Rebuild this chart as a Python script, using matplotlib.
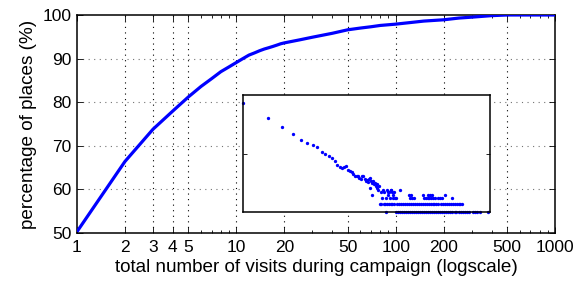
import matplotlib
matplotlib.use("Agg")
import matplotlib.pyplot as plt
import numpy as np

plt.rcParams['font.family'] = ['Liberation Sans', 'DejaVu Sans']

# main curve: cumulative share of places vs number of visits
visits = [1, 2, 3, 4, 5, 6, 7, 8, 9, 10, 11, 12, 13, 14, 15, 16, 17, 18, 19, 20,
          25, 30, 40, 50, 60, 70, 80, 100, 150, 200, 250, 300, 400, 500, 1000]
pct_places = [50.3, 66.4, 73.8, 78.0, 81.2, 83.6, 85.4, 87.0, 88.1, 89.1, 90.0, 90.8,
              91.3, 91.8, 92.2, 92.5, 92.8, 93.1, 93.4, 93.6,
              94.3, 94.9, 95.8, 96.6, 97.0, 97.3, 97.6, 97.9, 98.6, 98.9, 99.3, 99.5,
              99.85, 100.0, 100.0]

# inset: number of places with k visits (log-log)
ins_k = [1, 2, 3, 4, 5, 6, 7, 8, 9, 10, 11, 12, 13, 14, 15, 16, 17, 18, 19, 20,
         21, 22, 23, 24, 25, 26, 27, 28, 29, 30, 31, 32, 33, 34, 35, 36, 37, 38, 39, 40,
         41, 42, 43, 44, 45, 47, 50, 52, 57, 63, 35, 37]
ins_c = [5270, 1610, 790, 465, 300, 240, 195, 165, 115, 95, 82, 70, 56, 42, 35, 33, 35, 37, 29, 26,
         24, 20, 18, 17, 18, 15, 14, 17, 18, 14, 12, 13, 11, 14, 15, 12, 10, 12, 9, 10,
         8, 9, 7, 6, 8, 5, 6, 5, 5, 6, 7, 4]
# sparse tail, grouped by count
tail_k1 = [54, 72, 76, 80, 85, 90, 95, 101, 107, 113, 120, 127, 134, 142, 150, 159, 168, 178,
           188, 199, 211, 223, 236, 250, 265, 280, 296, 313, 331, 350, 371, 392, 415, 439,
           464, 491, 520, 549, 628, 665, 705, 750, 950]
tail_k2 = [46, 48, 51, 53, 56, 59, 62, 65, 68, 74, 78, 82, 87, 92, 97, 103, 109, 115, 122,
           129, 136, 144, 152, 161, 170, 180, 190, 201, 212, 224, 237, 254, 268, 283, 299,
           316, 334, 353, 373, 394, 416, 435, 452]
tail_k3 = [49, 55, 61, 66, 70, 73, 106, 112, 118, 158, 166, 175, 184, 194, 206, 218, 231, 246, 258, 347]
tail_k4 = [58, 67, 104, 111, 155, 179, 187, 196, 283]
tail_k5 = [60, 64, 69]
tail_k6 = [56, 62, 81]

fig = plt.figure(figsize=(5.81, 2.86), dpi=100)
ax = fig.add_axes([0.1325, 0.1853, 0.8227, 0.7623])
ax.semilogx(visits, pct_places, color='#0000ff', lw=2.3, solid_capstyle='butt', zorder=3)
ax.set_xlim(1, 1000)
ax.set_ylim(50, 100)
xt = [1, 2, 3, 4, 5, 10, 20, 50, 100, 200, 500, 1000]
ax.set_xticks(xt)
ax.set_xticklabels([str(v) for v in xt])
ax.set_yticks([50, 60, 70, 80, 90, 100])
ax.tick_params(which='both', direction='in', top=True, right=True, labelsize=12.5, width=0.6)
ax.tick_params(which='major', length=4)
ax.tick_params(which='minor', length=2)
ax.tick_params(axis='x', pad=5)
ax.tick_params(axis='y', pad=4)
for x in xt[1:-1]:
    ax.axvline(x, color='k', lw=0.8, ls=(0, (1, 4)), zorder=1)
for y in [60, 70, 80, 90]:
    ax.axhline(y, color='0.45', lw=0.8, ls=(0, (1, 4)), zorder=1)
for s in ax.spines.values():
    s.set_linewidth(1.1)
ax.set_xlabel("total number of visits during campaign (logscale)", fontsize=13.6, labelpad=3)
ax.set_ylabel("percentage of places (%)", fontsize=13.6, labelpad=4)

ins = fig.add_axes([0.4182, 0.257, 0.4251, 0.4108])
ins.set_xscale('log')
ins.set_yscale('log')
mk = dict(ls='none', marker='o', ms=2.4, mew=0, color='#0000ff', clip_on=False)
ins.plot(ins_k, ins_c, **mk)
ins.plot(tail_k1, [1] * len(tail_k1), **mk)
ins.plot(tail_k2, [2] * len(tail_k2), **mk)
ins.plot(tail_k3, [3] * len(tail_k3), **mk)
ins.plot(tail_k4, [4] * len(tail_k4), **mk)
ins.plot(tail_k5, [5] * len(tail_k5), **mk)
ins.plot(tail_k6, [6] * len(tail_k6), **mk)
ins.set_xlim(1, 1000)
ins.set_ylim(1, 1e4)
ins.set_xticks([])
ins.set_yticks([100])
ins.minorticks_off()
ins.set_yticklabels([])
ins.tick_params(direction='in', right=True, length=3, width=0.6)
for s in ins.spines.values():
    s.set_linewidth(1.1)

fig.savefig("out.png", dpi=100)
